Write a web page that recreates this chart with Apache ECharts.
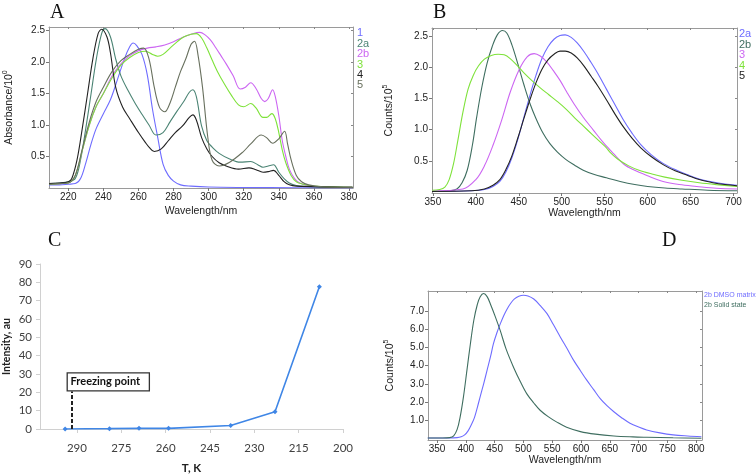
<!DOCTYPE html>
<html><head><meta charset="utf-8">
<script src="https://cdn.jsdelivr.net/npm/echarts@6/dist/echarts.min.js"></script>
<style>html,body{margin:0;padding:0;background:#fff}#c{width:756px;height:475px}</style>
</head><body><div id="c"></div>
<script>
// ---------- Panel A (absorbance) ----------
const A_x1 = [209,215,220,224,227,230,233,236,240,244,248,252,255,257,259,262,265,268,271,274,277,280,284,290,300,320,350,382];
const A_y1 = [0.05,0.05,0.06,0.07,0.15,0.4,0.7,0.95,1.18,1.4,1.72,2.05,2.24,2.3,2.26,2.12,1.8,1.25,0.8,0.38,0.2,0.11,0.05,0.03,0.015,0.008,0.004,0.0];
const A_x2a = [209,215,220,224,227,230,233,236,239,241,244,247,250,254,258,262,266,270,274,278,282,286,289,291,293,296,299,302,306,312,318,324,328,331,334,337,340,343,346,350,360,382];
const A_y2a = [0.07,0.08,0.1,0.15,0.45,0.95,1.5,2.05,2.45,2.53,2.4,2.05,1.78,1.55,1.35,1.17,1.0,0.84,0.88,1.05,1.22,1.38,1.52,1.56,1.45,0.98,0.75,0.65,0.55,0.46,0.41,0.42,0.37,0.33,0.35,0.37,0.25,0.15,0.08,0.04,0.02,0.01];
const A_x2b = [209,215,220,224,228,232,236,240,245,250,255,260,265,270,275,280,285,290,295,298,301,304,307,310,314,318,321,324,327,330,332,334,336.5,338,340,342,344,346,349,352,357,365,382];
const A_y2b = [0.06,0.07,0.08,0.2,0.6,1.0,1.3,1.5,1.78,1.97,2.1,2.18,2.22,2.24,2.27,2.32,2.39,2.44,2.47,2.43,2.35,2.23,2.1,1.97,1.78,1.57,1.6,1.67,1.58,1.42,1.37,1.42,1.56,1.45,1.15,0.75,0.5,0.3,0.15,0.08,0.04,0.02,0.01];
const A_x3 = [209,215,220,224,228,232,236,240,245,250,255,260,264,268,271,274,278,282,286,290,293,296,299,302,305,309,313,317,320,324,327,331,333,336,338,340,342,344,347,350,354,360,382];
const A_y3 = [0.06,0.07,0.08,0.2,0.6,1.0,1.3,1.5,1.75,1.95,2.07,2.15,2.17,2.12,2.09,2.12,2.22,2.32,2.4,2.44,2.45,2.38,2.22,2.03,1.85,1.65,1.47,1.32,1.29,1.34,1.27,1.12,1.12,1.18,1.1,0.88,0.6,0.4,0.2,0.1,0.06,0.03,0.01];
const A_x4 = [209,215,220,222,225,228,231,234,237,239,242,244,247,251,255,260,264,266,269,273,277,281,285,289,291,293,296,299,302,306,310,317,323,327,331,334,337,340,343,346,350,382];
const A_y4 = [0.07,0.08,0.1,0.15,0.45,0.95,1.5,2.05,2.45,2.52,2.4,2.15,1.6,1.28,1.1,0.88,0.72,0.65,0.58,0.62,0.75,0.88,0.98,1.12,1.16,1.08,0.8,0.62,0.5,0.4,0.35,0.3,0.32,0.29,0.25,0.26,0.28,0.2,0.1,0.05,0.03,0.01];
const A_x5 = [209,215,220,224,228,232,236,240,245,250,255,260,263,266,269,272,275,278,281,284,287,290,292,294,296.5,299.5,302,306,312,319.5,324,330,333,336.5,340,343.3,345,347,350,353,357,365,382];
const A_y5 = [0.06,0.07,0.08,0.2,0.62,1.05,1.38,1.6,1.85,2.02,2.12,2.2,2.22,2.05,1.6,1.28,1.21,1.35,1.6,1.85,2.05,2.28,2.33,2.1,1.6,0.81,0.44,0.35,0.41,0.57,0.7,0.84,0.8,0.71,0.78,0.9,0.7,0.45,0.2,0.1,0.05,0.02,0.01];
const A_xTicks = [220,240,260,280,300,320,340,360,380];
const A_yTicks = [0.5,1.0,1.5,2.0,2.5];
const A_names = ['1','2a','2b','3','4','5'];

// ---------- Panel B (emission) ----------
const B_x2a = [349,395,410,420,428,435,442,449,456,463,470,477,484,491,498,504,511,518,526,534,542,552,562,572,582,592,604,618,632,646,660,676,690,704];
const B_y2a = [0.01,0.02,0.04,0.09,0.17,0.32,0.55,0.85,1.2,1.55,1.87,2.14,2.33,2.45,2.51,2.52,2.48,2.39,2.25,2.08,1.9,1.65,1.4,1.15,0.94,0.76,0.6,0.46,0.36,0.28,0.21,0.16,0.13,0.11];
const B_x2b = [349,370,378,384,390,396,401,407,413,419,425,431,436,442,449,456,463,470,478,486,495,505,515,525,538,552,568,585,600,620,640,670,704];
const B_y2b = [0.01,0.02,0.05,0.15,0.35,0.75,1.2,1.68,2.06,2.33,2.52,2.59,2.55,2.36,2.05,1.72,1.42,1.18,0.95,0.78,0.64,0.52,0.43,0.35,0.28,0.23,0.17,0.12,0.09,0.065,0.05,0.03,0.02];
const B_x3 = [349,385,400,410,420,430,440,450,460,468,475,483,490,498,506,514,525,537,548,560,572,583,600,618,637,657,680,704];
const B_y3 = [0.02,0.05,0.2,0.42,0.75,1.15,1.6,1.95,2.17,2.22,2.18,2.08,1.95,1.79,1.6,1.42,1.2,0.99,0.8,0.62,0.45,0.36,0.26,0.17,0.12,0.09,0.06,0.05];
const B_x4 = [349,358,364,369,374,379,385,391,397,403,410,418,426,433,440,448,456,465,475,485,495,505,515,525,535,545,552,556,565,578,590,605,620,640,660,680,704];
const B_y4 = [0.03,0.04,0.08,0.2,0.45,0.82,1.28,1.65,1.87,2.02,2.13,2.19,2.21,2.2,2.14,2.03,1.91,1.79,1.67,1.56,1.45,1.33,1.19,1.06,0.93,0.8,0.71,0.64,0.53,0.42,0.35,0.29,0.24,0.19,0.15,0.12,0.09];
const B_x5 = [349,395,410,420,428,435,442,449,456,463,470,477,484,491,498,504,511,518,526,534,542,552,562,572,582,592,604,618,632,646,660,676,690,704];
const B_y5 = [0.01,0.02,0.05,0.11,0.2,0.36,0.58,0.87,1.18,1.48,1.75,1.97,2.12,2.21,2.26,2.26,2.23,2.15,2.02,1.86,1.7,1.48,1.25,1.04,0.86,0.71,0.57,0.44,0.34,0.27,0.2,0.15,0.12,0.1];
const B_xTicks = [350,400,450,500,550,600,650,700];
const B_yTicks = [0.5,1.0,1.5,2.0,2.5];
const B_names = ['2a','2b','3','4','5'];

// ---------- Panel C (intensity vs T) ----------
const C_T = [294,279,269,259,238,223,208];
const C_I = [0,0.2,0.35,0.35,1.9,9.4,77.6];
const C_xTicks = [200,215,230,245,260,275,290];
const C_freezeT = 291.6;

// ---------- Panel D ----------
const D_xDMSO = [334,370,385,392,398,404,410,415,420,425,431,437,443,448,454,460,466,472,478,484,492,500,508,518,529,541,552,564,576,587,599,610,622,633,645,657,671,685,700,714,737,760,785,809];
const D_yDMSO = [0.03,0.03,0.05,0.1,0.2,0.42,0.78,1.15,1.7,2.3,3.0,3.75,4.5,5.2,5.8,6.3,6.75,7.12,7.42,7.64,7.8,7.86,7.82,7.65,7.3,6.85,6.25,5.57,4.92,4.3,3.72,3.2,2.68,2.2,1.8,1.47,1.13,0.84,0.63,0.47,0.31,0.2,0.14,0.1];
const D_xSolid = [334,360,372,379,385,390,396,402,408,414,420,425,431,437,443,451,460,470,483,495,506,518,529,543,558,575,599,625,657,690,714,760,809];
const D_ySolid = [0.03,0.03,0.05,0.15,0.5,1.15,2.3,3.75,5.2,6.5,7.35,7.78,7.95,7.78,7.35,6.7,5.9,4.9,3.9,3.1,2.45,1.95,1.55,1.2,0.9,0.62,0.38,0.24,0.14,0.09,0.07,0.04,0.02];
const D_xTicks = [350,400,450,500,550,600,650,700,750,800];
const D_yTicks = [1,2,3,4,5,6,7];
const D_names = ['2b DMSO matrix','2b Solid state'];

const PANEL_LETTERS = ['A','B','C','D'];

// ---------- styling ----------
const COL = {blue:'#6e6cff', teal:'#4b8474', dgreen:'#3f6e60', violet:'#cc66f2', green:'#7ee23a', black:'#222222', olive:'#68705e'};
const SANS = '"Liberation Sans", Arial, sans-serif';
const CAL = 'Lato, "Open Sans", sans-serif';
const SERIF = '"Liberation Serif", "Times New Roman", serif';
const pair = (xs, ys) => xs.map((x,i)=>[x, ys[i]]);

function frameAxes(gi, xmin, xmax, ymin, ymax, xt, yt, xname, yname, xgap, ygap, yfmt){
  const frame = {lineStyle:{color:'#9a9a9a', width:1}};
  const xs = [
    {gridIndex:gi, type:'value', min:xmin, max:xmax, position:'bottom',
     axisLine:{show:true, onZero:false, ...frame}, splitLine:{show:false},
     axisTick:{show:true, inside:false, length:3, customValues:xt, lineStyle:{color:'#777'}},
     axisLabel:{customValues:xt, color:'#222', fontSize:10, fontFamily:SANS, margin:4},
     name:xname, nameLocation:'middle', nameGap:xgap, nameTextStyle:{color:'#222', fontSize:10.5, fontFamily:SANS}},
    {gridIndex:gi, type:'value', min:xmin, max:xmax, position:'top',
     axisLine:{show:true, onZero:false, ...frame}, splitLine:{show:false},
     axisTick:{show:true, inside:true, length:2, customValues:xt, lineStyle:{color:'#888'}},
     axisLabel:{show:false}}
  ];
  const ys = [
    {gridIndex:gi, type:'value', min:ymin, max:ymax, position:'left',
     axisLine:{show:true, onZero:false, ...frame}, splitLine:{show:false},
     axisTick:{show:true, inside:false, length:3, customValues:yt, lineStyle:{color:'#777'}},
     axisLabel:{customValues:yt, color:'#222', fontSize:10, fontFamily:SANS, margin:4, formatter:yfmt},
     name:yname, nameLocation:'middle', nameGap:ygap, nameRotate:90,
     nameTextStyle:{color:'#222', fontSize:10.5, fontFamily:SANS,
       rich:{b:{fontSize:10.5, fontFamily:SANS, color:'#222'}, s:{fontSize:7, fontFamily:SANS, color:'#222', verticalAlign:'top', padding:[0,0,7,0]}}}},
    {gridIndex:gi, type:'value', min:ymin, max:ymax, position:'right',
     axisLine:{show:true, onZero:false, ...frame}, splitLine:{show:false},
     axisTick:{show:true, inside:true, length:2, customValues:yt, lineStyle:{color:'#888'}},
     axisLabel:{show:false}}
  ];
  return {xs, ys};
}

const fmt1 = v => v.toFixed(1);
const pA = frameAxes(0, 209, 382.3, 0, 2.555, A_xTicks, A_yTicks, 'Wavelength/nm', '{b|Absorbance/10}{s|0}', 18, 33, fmt1);
const pB = frameAxes(1, 349, 704, -0.015, 2.63, B_xTicks, B_yTicks, 'Wavelength/nm', '{b|Counts/10}{s|5}', 13, 36, fmt1);
const pD = frameAxes(3, 334.4, 810, -0.08, 8.09, D_xTicks, D_yTicks, 'Wavelength/nm', '{b|Counts/10}{s|5}', 12, 31, fmt1);

const cAxisCol = '#d0d0d0';
const xAxes = [pA.xs[0], pA.xs[1], pB.xs[0], pB.xs[1],
  {gridIndex:2, type:'value', min:200, max:302.5, inverse:true,
   axisLine:{show:true, onZero:false, lineStyle:{color:cAxisCol, width:1}}, splitLine:{show:false},
   axisTick:{show:true, length:4, customValues:C_xTicks, lineStyle:{color:cAxisCol}},
   axisLabel:{customValues:C_xTicks, color:'#404040', fontSize:11.5, fontFamily:CAL, margin:13},
   name:'T, K', nameLocation:'middle', nameGap:33, nameTextStyle:{color:'#222', fontSize:11.5, fontWeight:'bold', fontFamily:CAL}},
  pD.xs[0], pD.xs[1]];
const yAxes = [pA.ys[0], pA.ys[1], pB.ys[0], pB.ys[1],
  {gridIndex:2, type:'value', min:0, max:90, interval:10,
   axisLine:{show:true, lineStyle:{color:cAxisCol, width:1}}, splitLine:{show:false},
   axisTick:{show:true, length:4, lineStyle:{color:cAxisCol}},
   axisLabel:{color:'#404040', fontSize:11.5, fontFamily:CAL, margin:8},
   name:'Intensity, au', nameLocation:'middle', nameGap:28, nameRotate:90,
   nameTextStyle:{color:'#222', fontSize:10.5, fontWeight:'bold', fontFamily:CAL}},
  pD.ys[0], pD.ys[1]];

function line(name, data, color, xi, yi){
  return {name, type:'line', data, xAxisIndex:xi, yAxisIndex:yi, smooth:0.35, showSymbol:false,
          symbol:'none', lineStyle:{color, width:1.1}, itemStyle:{color}, silent:true, animation:false, z:3};
}

const series = [
  line(A_names[0], pair(A_x1, A_y1), COL.blue, 0, 0),
  line(A_names[1], pair(A_x2a, A_y2a), COL.teal, 0, 0),
  line(A_names[2], pair(A_x2b, A_y2b), COL.violet, 0, 0),
  line(A_names[3], pair(A_x3, A_y3), COL.green, 0, 0),
  line(A_names[4], pair(A_x4, A_y4), COL.black, 0, 0),
  line(A_names[5], pair(A_x5, A_y5), COL.olive, 0, 0),
  line('B'+B_names[0], pair(B_x2a, B_y2a), COL.blue, 2, 2),
  line('B'+B_names[1], pair(B_x2b, B_y2b), COL.dgreen, 2, 2),
  line('B'+B_names[2], pair(B_x3, B_y3), COL.violet, 2, 2),
  line('B'+B_names[3], pair(B_x4, B_y4), COL.green, 2, 2),
  line('B'+B_names[4], pair(B_x5, B_y5), COL.black, 2, 2),
  {name:'C', type:'line', data:pair(C_T, C_I), xAxisIndex:4, yAxisIndex:4, smooth:false,
   symbol:'diamond', symbolSize:5, showSymbol:true, lineStyle:{color:'#3f86e6', width:1.6}, itemStyle:{color:'#3f86e6'},
   animation:false, z:3,
   markLine:{silent:true, symbol:'none', animation:false, label:{show:false},
     lineStyle:{color:'#222', type:[4,2], width:2},
     data:[[{coord:[C_freezeT,0]},{coord:[C_freezeT,20.4]}]]},
   markArea:{silent:true, animation:false,
     itemStyle:{color:'#ffffff', borderColor:'#333', borderWidth:1.3},
     label:{show:true, position:'insideLeft', distance:4, color:'#111', fontWeight:'bold', fontSize:11, fontFamily:CAL},
     data:[[{name:'Freezing point', coord:[293.3,30.6]},{coord:[265.5,20.8]}]]}},
  line(D_names[0], pair(D_xDMSO, D_yDMSO), COL.blue, 5, 5),
  line(D_names[1], pair(D_xSolid, D_ySolid), COL.dgreen, 5, 5)
];

// panel letters as titles
const letterPos = [[50,3],[433,3],[48,231],[662,231]];
const titles = PANEL_LETTERS.map((t,i)=>({text:t, left:letterPos[i][0], top:letterPos[i][1], padding:0,
  textStyle:{fontFamily:SERIF, fontSize:20, fontWeight:'normal', color:'#111'}}));

const txt = (x, y, t, color, size, family) => ({type:'text', x:x, y:y, silent:true,
  style:{text:t, fill:color, font:size+'px '+family, textVerticalAlign:'middle', textAlign:'left'}});
const graphics = [];
const aCols = [COL.blue, COL.teal, COL.violet, COL.green, COL.black, COL.olive];
A_names.forEach((n,i)=>graphics.push(txt(357, 33.3 + i*10.4, n, aCols[i], 11, SANS)));
const bCols = [COL.blue, COL.dgreen, COL.violet, COL.green, COL.black];
B_names.forEach((n,i)=>graphics.push(txt(739, 34 + i*10.5, n, bCols[i], 11, SANS)));
const dCols = [COL.blue, COL.dgreen];
D_names.forEach((n,i)=>graphics.push(txt(704, 295 + i*10, n, dCols[i], 7, SANS)));

const chart = echarts.init(document.getElementById('c'), null, {renderer:'canvas'});
chart.setOption({
  backgroundColor:'#ffffff',
  animation:false,
  title:titles,
  grid:[
    {left:49, top:27, width:304, height:161},
    {left:432, top:28, width:305, height:165},
    {left:40, top:264, width:303, height:170},
    {left:428, top:291, width:274, height:149}
  ],
  xAxis:xAxes, yAxis:yAxes, series, graphic:graphics
});
</script></body></html>
